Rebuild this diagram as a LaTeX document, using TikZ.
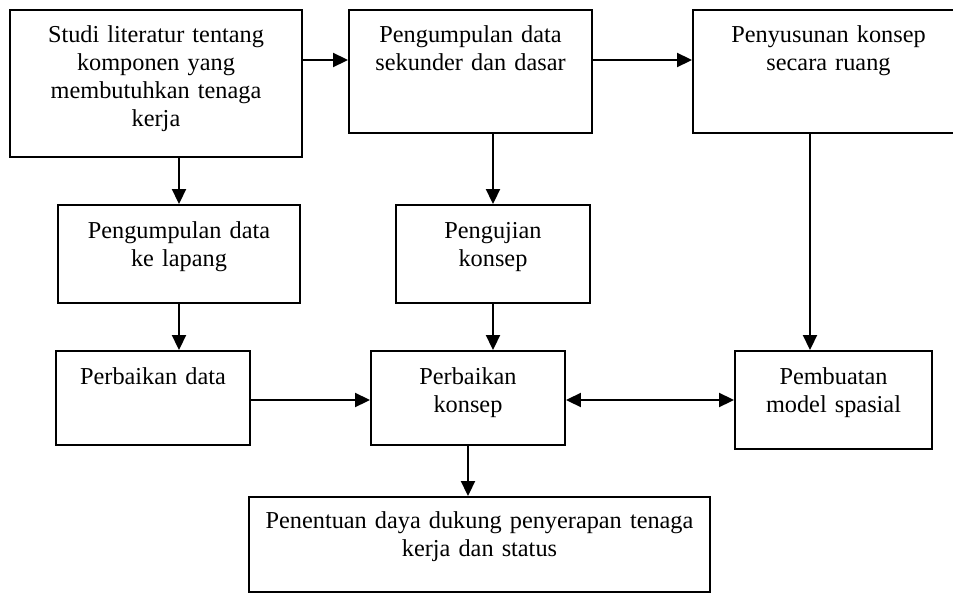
\documentclass[tikz,border=0pt]{standalone}
\usepackage{fontspec}
\setmainfont{Liberation Serif}
\usetikzlibrary{arrows.meta}
\begin{document}
\begin{tikzpicture}[x=1pt,y=-1pt,
  box/.style={draw, line width=1.9pt, inner sep=0pt, rectangle},
  txt/.style={anchor=base, align=center, inner sep=0pt, font=\fontsize{24.3}{28.2}\selectfont},
  arr/.style={line width=1.9pt, -{Triangle[length=15pt,width=14pt]}},
  dbl/.style={line width=1.9pt, {Triangle[length=15pt,width=14pt]}-{Triangle[length=15pt,width=14pt]}}]
\clip (0,0) rectangle (953,594);
\fill[white] (0,0) rectangle (953,594);

% boxes
\node[box, minimum width=292pt, minimum height=147pt] (b1) at (156,83.5) {};
\node[box, minimum width=243pt, minimum height=123pt] (b2) at (470.5,71.5) {};
\node[box, minimum width=271pt, minimum height=123pt] (b3) at (828.5,71.5) {};
\node[box, minimum width=242pt, minimum height=98pt] (b4) at (179,254) {};
\node[box, minimum width=194pt, minimum height=98pt] (b5) at (493,254) {};
\node[box, minimum width=194pt, minimum height=94pt] (b6) at (153,398) {};
\node[box, minimum width=194pt, minimum height=94pt] (b7) at (468,398) {};
\node[box, minimum width=197pt, minimum height=98pt] (b8) at (833.5,400) {};
\node[box, minimum width=461pt, minimum height=95pt] (b9) at (479.5,544.5) {};

% texts
\node[txt, text width=280pt] (t1) at ([yshift=-33pt]b1.north) {Studi literatur tentang\\komponen yang\\membutuhkan tenaga\\kerja};
\node[txt, text width=235pt] (t2) at ([yshift=-33pt]b2.north) {Pengumpulan data\\sekunder dan dasar};
\node[txt, text width=260pt] (t3) at ([yshift=-33pt]b3.north) {Penyusunan konsep\\secara ruang};
\node[txt, text width=235pt] (t4) at ([yshift=-34pt]b4.north) {Pengumpulan data\\ke lapang};
\node[txt, text width=185pt] (t5) at ([yshift=-34pt]b5.north) {Pengujian\\konsep};
\node[txt, text width=185pt] (t6) at ([yshift=-34pt]b6.north) {Perbaikan data};
\node[txt, text width=185pt] (t7) at ([yshift=-34pt]b7.north) {Perbaikan\\konsep};
\node[txt, text width=190pt] (t8) at ([yshift=-34pt]b8.north) {Pembuatan\\model spasial};
\node[txt, text width=450pt] (t9) at ([yshift=-32pt]b9.north) {Penentuan daya dukung penyerapan tenaga\\kerja dan status};

% helper coordinates
\coordinate (r1) at (0,60);
\coordinate (r2) at (0,400);
\coordinate (c3) at (810,0);

% connectors
\draw[arr] (b1.east |- r1) -- (b2.west |- r1);
\draw[arr] (b2.east |- r1) -- (b3.west |- r1);
\draw[arr] (b1.south -| b4.north) -- (b4.north);
\draw[arr] (b2.south -| b5.north) -- (b5.north);
\draw[arr] (b3.south -| c3) -- (b8.north -| c3);
\draw[arr] (b4.south) -- (b6.north -| b4.south);
\draw[arr] (b5.south) -- (b7.north -| b5.south);
\draw[arr] (b6.east |- r2) -- (b7.west |- r2);
\draw[dbl] (b7.east |- r2) -- (b8.west |- r2);
\draw[arr] (b7.south) -- (b9.north -| b7.south);
\end{tikzpicture}
\end{document}
